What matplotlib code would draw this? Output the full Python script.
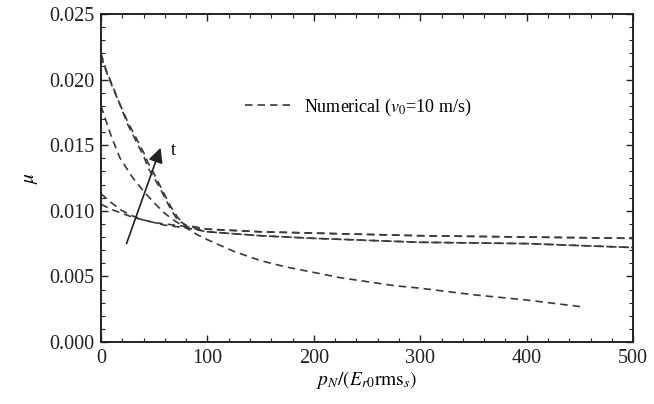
import matplotlib
matplotlib.use('Agg')
import matplotlib.pyplot as plt
from matplotlib.ticker import MultipleLocator, FormatStrFormatter

plt.rcParams['font.family'] = ['Liberation Serif', 'DejaVu Serif']
plt.rcParams['mathtext.fontset'] = 'stix'

# friction coefficient vs. normalised pressure, read along each run
x_fast = [0, 5, 13, 25, 41, 44, 50, 55, 60, 65, 72, 80, 100, 150, 200, 300, 400, 500]
mu_fast_a = [0.0220, 0.0207, 0.0191, 0.0166, 0.0140, 0.0133, 0.0125, 0.0118, 0.0110, 0.0102, 0.0093,
             0.0089, 0.0086, 0.0084, 0.0083, 0.0081, 0.0080, 0.0079]
mu_fast_b = [0.0218, 0.0206, 0.0190, 0.0168, 0.0143, 0.0137, 0.0128, 0.0120, 0.0112, 0.0104, 0.0095,
             0.0088, 0.0084, 0.0081, 0.0079, 0.0076, 0.0075, 0.0072]

x_decay = [0, 10, 18, 30, 40, 50, 60, 70, 80, 90, 100, 125, 150, 175, 200, 225, 250, 275, 300, 350, 400, 450]
mu_decay = [0.0180, 0.0156, 0.0140, 0.0125, 0.0115, 0.0106, 0.0098, 0.0092, 0.0087, 0.0082, 0.0078,
            0.0069, 0.0062, 0.0057, 0.0053, 0.0049, 0.0046, 0.0043, 0.0041, 0.0036, 0.0032, 0.0027]

x_flat = [0, 10, 20, 30, 40, 50, 60, 80, 100, 150, 200, 300, 400, 500]
mu_flat_a = [0.0113, 0.0106, 0.0100, 0.0096, 0.0093, 0.0091, 0.0090, 0.0088, 0.0086, 0.0084, 0.0083,
             0.0081, 0.0080, 0.0079]
mu_flat_b = [0.0105, 0.0101, 0.0098, 0.0095, 0.0093, 0.0091, 0.0089, 0.0087, 0.0084, 0.0081, 0.0079,
             0.0076, 0.0075, 0.0072]

legend_label = 'Numerical ($v_0$=10 m/s)'

fig = plt.figure(figsize=(6.54, 4.04), dpi=100)
ax = fig.add_axes([0.1544, 0.1535, 0.8136, 0.8118])

dash = dict(ls=(0, (4.5, 3)), lw=1.2, color='#3a3a3a')
ax.plot(x_fast, mu_fast_a, label=legend_label, **dash)
ax.plot(x_fast, mu_fast_b, **dash)
ax.plot(x_decay, mu_decay, **dash)
ax.plot(x_flat, mu_flat_a, **dash)
ax.plot(x_flat, mu_flat_b, **dash)

ax.annotate('', xy=(56, 0.0148), xytext=(24, 0.0075),
            arrowprops=dict(arrowstyle='-|>', mutation_scale=22, lw=1.2, color='#222222',
                            shrinkA=0, shrinkB=0))
ax.text(66, 0.0146, 't', fontsize=13, va='center', ha='left')

ax.set_xlim(0, 500)
ax.set_ylim(0, 0.025)
ax.xaxis.set_major_locator(MultipleLocator(100))
ax.xaxis.set_minor_locator(MultipleLocator(20))
ax.yaxis.set_major_locator(MultipleLocator(0.005))
ax.yaxis.set_minor_locator(MultipleLocator(0.001))
ax.yaxis.set_major_formatter(FormatStrFormatter('%.3f'))
ax.tick_params(which='both', direction='in', top=True, right=True, labelsize=14.5, colors='#222222')
ax.tick_params(which='major', length=5, width=1.0, pad=5)
ax.tick_params(which='minor', length=3, width=0.8)
for s in ax.spines.values():
    s.set_linewidth(1.4)
    s.set_color('#222222')

ax.set_xlabel(r'$p_N/(E_{r0}\mathrm{rms}_s)$', fontsize=14, labelpad=1)
ax.set_ylabel(r'$\mu$', fontsize=14, labelpad=6)

ax.legend(loc='center left', bbox_to_anchor=(0.27, 0.716), frameon=False, fontsize=13,
          handlelength=2.6, handletextpad=0.7, borderpad=0, borderaxespad=0)

fig.savefig('out.png', dpi=100)
